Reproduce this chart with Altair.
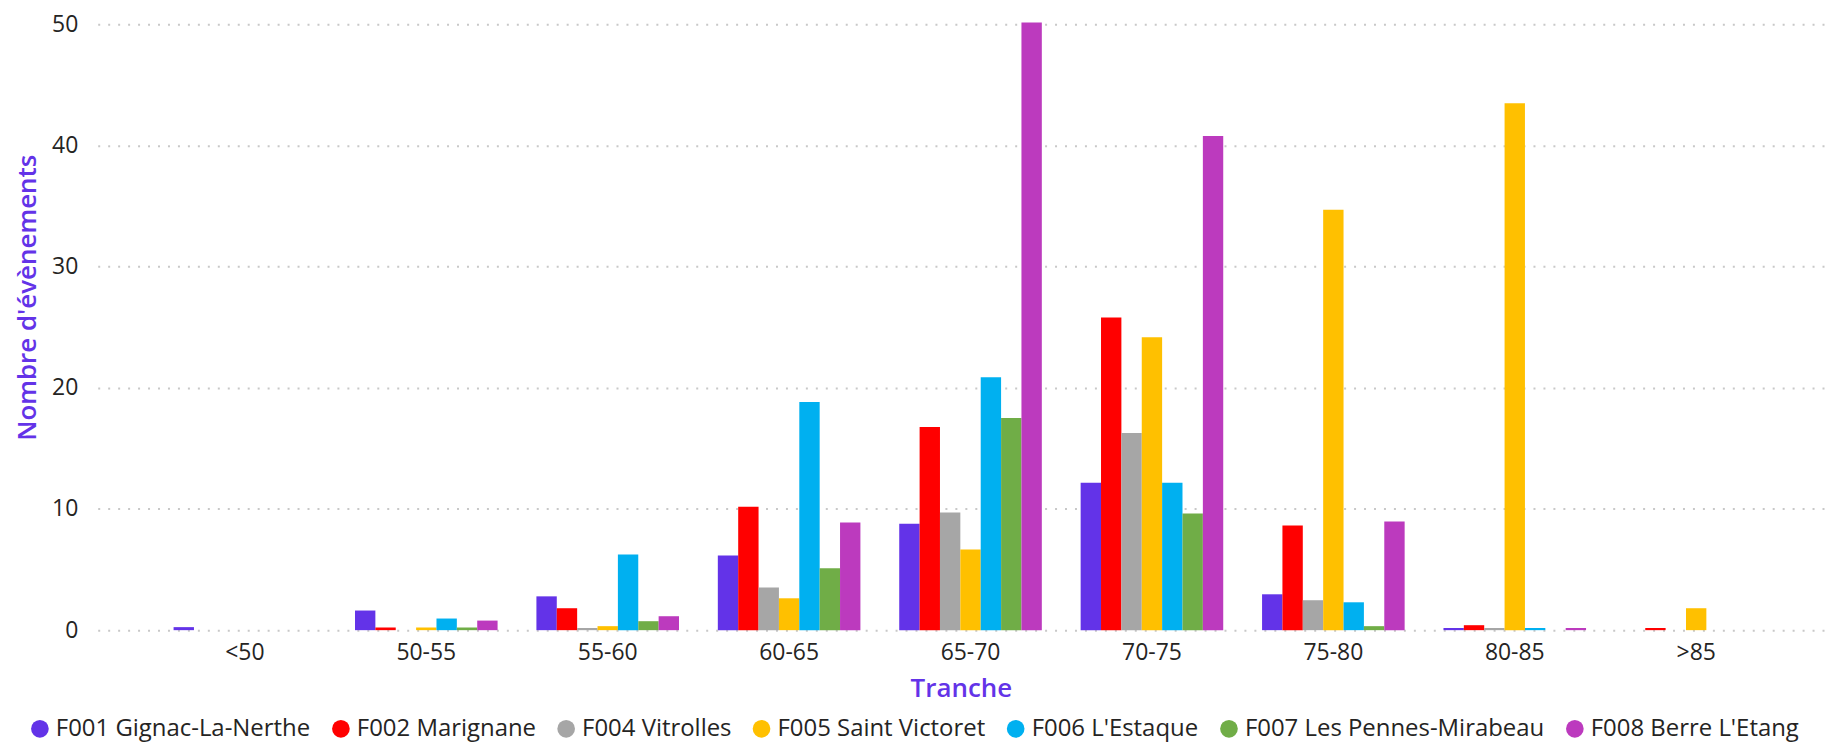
import altair as alt
import pandas as pd

tranches = ["<50", "50-55", "55-60", "60-65", "65-70", "70-75", "75-80", "80-85", ">85"]
series = [
    "F001 Gignac-La-Nerthe",
    "F002 Marignane",
    "F004 Vitrolles",
    "F005 Saint Victoret",
    "F006 L'Estaque",
    "F007 Les Pennes-Mirabeau",
    "F008 Berre L'Etang",
]
colors = ["#6333E8", "#FF0000", "#A6A6A6", "#FFC000", "#00B0F0", "#70AD47", "#BC3ABE"]

f001 = [0.25, 1.62, 2.79, 6.16, 8.79, 12.16, 2.96, 0.18, 0]
f002 = [0, 0.22, 1.81, 10.19, 16.77, 25.81, 8.63, 0.41, 0.18]
f004 = [0, 0, 0.18, 3.53, 9.70, 16.27, 2.47, 0.18, 0]
f005 = [0, 0.22, 0.33, 2.63, 6.66, 24.17, 34.69, 43.48, 1.81]
f006 = [0, 0.96, 6.25, 18.82, 20.88, 12.16, 2.30, 0.18, 0]
f007 = [0, 0.22, 0.74, 5.10, 17.51, 9.62, 0.33, 0, 0]
f008 = [0, 0.79, 1.15, 8.88, 50.14, 40.77, 8.96, 0.18, 0]

values = [f001, f002, f004, f005, f006, f007, f008]
rows = []
for s, vals in zip(series, values):
    for t, v in zip(tranches, vals):
        rows.append({"Tranche": t, "Site": s, "Valeur": v})
df = pd.DataFrame(rows)

FONT = "Segoe UI, Open Sans, sans-serif"
PURPLE = "#6333E8"

chart = (
    alt.Chart(df)
    .mark_bar()
    .encode(
        x=alt.X(
            "Tranche:N",
            sort=tranches,
            scale=alt.Scale(paddingInner=0.214, paddingOuter=0.365, align=0.573),
            axis=alt.Axis(
                title="Tranche",
                labelAngle=0,
                labelFontSize=23,
                labelColor="#252423",
                labelPadding=11,
                titleFontSize=26,
                titleFontWeight=600,
                titleColor=PURPLE,
                titlePadding=12,
                domain=False,
                ticks=False,
                grid=False,
            ),
        ),
        xOffset=alt.XOffset("Site:N", sort=series),
        y=alt.Y(
            "Valeur:Q",
            scale=alt.Scale(domain=[0, 50.5], nice=False),
            axis=alt.Axis(
                title="Nombre d'évènements",
                values=[0, 10, 20, 30, 40, 50],
                labelFontSize=23,
                labelColor="#252423",
                labelPadding=20,
                titleFontSize=26,
                titleFontWeight=600,
                titleColor=PURPLE,
                titleBaseline="middle",
                titleX=-70,
                titleY=280,
                domain=False,
                ticks=False,
                grid=True,
                gridColor="#C8C8C8",
                gridDash=[2, 8],
                gridWidth=2,
            ),
        ),
        color=alt.Color(
            "Site:N",
            sort=series,
            scale=alt.Scale(domain=series, range=colors),
            legend=alt.Legend(
                title=None,
                orient="none",
                direction="horizontal",
                legendX=-70,
                legendY=701,
                symbolType="circle",
                symbolSize=314,
                symbolStrokeWidth=0,
                symbolOpacity=1,
                labelFontSize=24,
                labelColor="#252423",
                labelOffset=4,
                columnPadding=18,
                padding=0,
                labelLimit=0,
            ),
        ),
    )
    .properties(
        width=1732,
        height=614,
        autosize=alt.AutoSizeParams(type="none"),
        padding={"left": 90, "top": 9, "right": 5, "bottom": 113},
    )
    .configure(font=FONT)
    .configure_view(stroke=None)
)

chart.save("out.html", embed_options={"renderer": "svg", "actions": False})
